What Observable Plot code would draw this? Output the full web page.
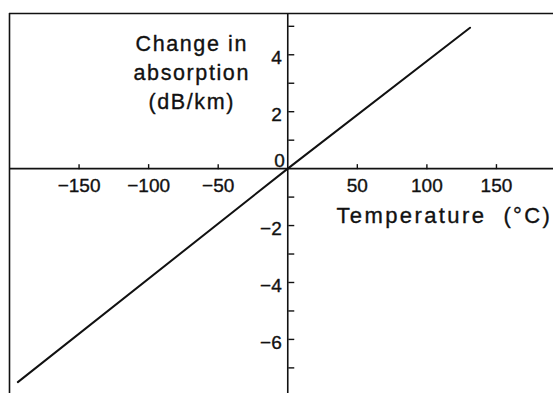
<!DOCTYPE html>
<html><head><meta charset="utf-8">
<script src="https://cdn.jsdelivr.net/npm/d3@7"></script>
<script src="https://cdn.jsdelivr.net/npm/@observablehq/plot@0.6"></script>
<style>
body{margin:0;background:#fff}
#chart svg{font-family:"Liberation Sans",Arial,Helvetica,sans-serif;background:#fff}
</style>
</head><body><div id="chart"></div>
<script>
// Data
const temperature = [-194, 0, 131];          // °C
const absorptionChange = [-7.5, 0, 4.95];    // dB/km
const xTickValues = [-150, -100, -50, 50, 100, 150];
const xTickLabels = ["−150", "−100", "−50", "50", "100", "150"];
const yTickValues = [-7, -6, -5, -4, -3, -2, -1, 1, 2, 3, 4, 5];
const yLabelValues = [-6, -4, -2, 2, 4];
const yLabelTexts = ["−6", "−4", "−2", "2", "4"];
const xDomain = [-200, 191];
const yDomain = [-7.9, 5.45];
const yTitle = ["Change in", "absorption", "(dB/km)"];
const xTitle = "Temperature  (°C)";
const yTitlePos = {x: -69, y: 3.43};
const xTitlePos = {x: 35, y: -1.65};

const data = temperature.map((t, i) => ({t, a: absorptionChange[i]}));
const W = 553, H = 393;
const base = {
  width: W, height: H,
  marginLeft: 9, marginTop: 13, marginRight: 0, marginBottom: 0,
  x: {domain: xDomain, axis: null},
  y: {domain: yDomain, axis: null}
};
const probe = Plot.plot({...base, marks: []});
const x0 = probe.scale("x").apply(0);
const y0 = probe.scale("y").apply(0);
const top0 = base.marginTop;
const right0 = W - base.marginRight;
const ink = "#111";
const textInk = {fill: ink, stroke: ink, strokeWidth: 0.35};

const chart = Plot.plot({
  ...base,
  marks: [
    // partial frame
    Plot.ruleY([yDomain[1]], {stroke: ink, strokeWidth: 1.6}),
    Plot.ruleX([xDomain[0]], {stroke: ink, strokeWidth: 1.6}),
    // axes through origin
    Plot.ruleX([0], {stroke: ink, strokeWidth: 1.6}),
    Plot.ruleY([0], {stroke: ink, strokeWidth: 1.6}),
    Plot.axisX(xTickValues, {anchor: "top", dy: y0 - top0, tickSize: 5, tickFormat: () => "", label: null, stroke: ink, strokeWidth: 1.4}),
    Plot.axisY(yTickValues, {anchor: "right", dx: x0 - right0, tickSize: 6, tickFormat: () => "", label: null, stroke: ink, strokeWidth: 1.4}),
    Plot.text(xTickValues, {x: d => d, y: 0, dy: 17, text: (d, i) => xTickLabels[i], fontSize: 19, ...textInk}),
    Plot.text(yLabelValues, {x: 0, y: d => d, dx: -6, dy: 3, text: (d, i) => yLabelTexts[i], textAnchor: "end", fontSize: 19, ...textInk}),
    Plot.text(["0"], {x: 0, y: 0, dx: -3, dy: -8, text: d => d, textAnchor: "end", fontSize: 19, ...textInk}),
    // titles
    Plot.text([yTitle.join("\n")], {x: yTitlePos.x, y: yTitlePos.y, text: d => d, lineAnchor: "middle", lineHeight: 1.35, fontSize: 21.5, textAnchor: "middle", ...textInk}),
    Plot.text([xTitle], {x: xTitlePos.x, y: xTitlePos.y, text: d => d, textAnchor: "start", fontSize: 22, ...textInk}),
    // data line
    Plot.line(data, {x: "t", y: "a", stroke: ink, strokeWidth: 2})
  ]
});
chart.querySelectorAll("text").forEach(t => {
  if (t.textContent.startsWith("Temperature")) t.style.letterSpacing = "2.4px";
  else if (yTitle.some(s => t.textContent.includes(s))) t.style.letterSpacing = "1.6px";
});
document.getElementById("chart").appendChild(chart);
</script>
</body></html>
